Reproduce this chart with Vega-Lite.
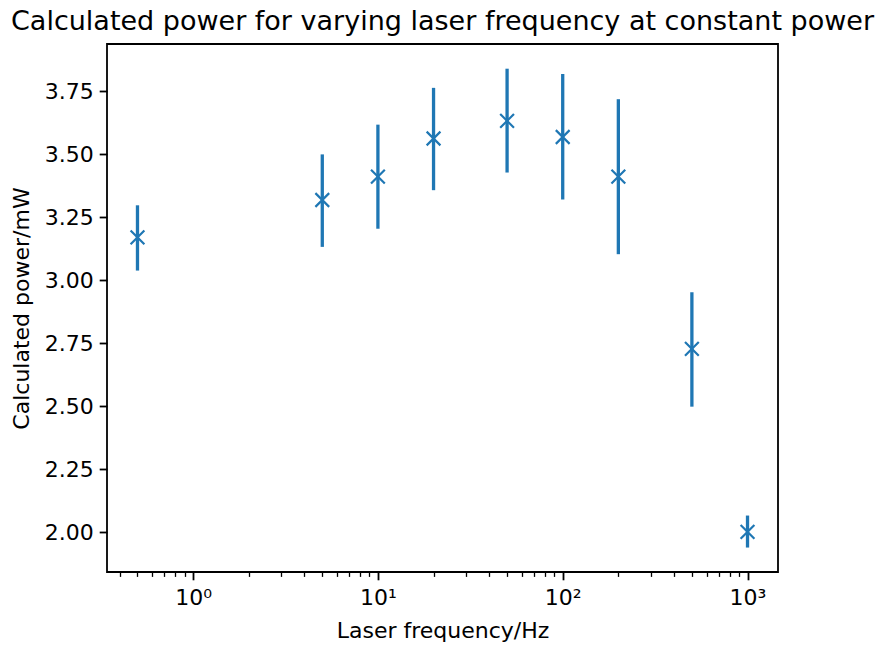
{
  "$schema": "https://vega.github.io/schema/vega-lite/v6.json",
  "width": 671,
  "height": 528,
  "autosize": {"type": "none"},
  "padding": {"left": 107, "top": 44, "right": 102, "bottom": 74},
  "background": "white",
  "title": {
    "text": "Calculated power for varying laser frequency at constant power",
    "font": "DejaVu Sans",
    "fontSize": 27,
    "fontWeight": "normal",
    "color": "black",
    "anchor": "middle",
    "offset": 8
  },
  "config": {
    "view": {"stroke": "black", "strokeWidth": 1.8},
    "font": "DejaVu Sans",
    "axis": {
      "grid": false,
      "domain": false,
      "labelFont": "DejaVu Sans",
      "titleFont": "DejaVu Sans",
      "labelColor": "black",
      "titleColor": "black",
      "tickColor": "black",
      "titleFontWeight": "normal"
    }
  },
  "data": {
    "values": [
      {"f": 0.5, "p": 3.170, "lo": 3.038, "hi": 3.297},
      {"f": 5, "p": 3.318, "lo": 3.132, "hi": 3.499},
      {"f": 10, "p": 3.411, "lo": 3.204, "hi": 3.617},
      {"f": 20, "p": 3.562, "lo": 3.357, "hi": 3.763},
      {"f": 50, "p": 3.632, "lo": 3.427, "hi": 3.839},
      {"f": 100, "p": 3.568, "lo": 3.320, "hi": 3.818},
      {"f": 200, "p": 3.411, "lo": 3.103, "hi": 3.718},
      {"f": 500, "p": 2.727, "lo": 2.498, "hi": 2.952},
      {"f": 1000, "p": 2.001, "lo": 1.939, "hi": 2.066}
    ]
  },
  "resolve": {"axis": {"x": "independent"}},
  "layer": [
    {
      "mark": {"type": "rule", "color": "#1f77b4", "strokeWidth": 3.3},
      "encoding": {
        "x": {
          "field": "f",
          "type": "quantitative",
          "scale": {"type": "log", "domain": [0.342, 1462], "nice": false, "zero": false},
          "axis": {
            "orient": "bottom",
            "values": [1, 10, 100, 1000],
            "labelExpr": "datum.value == 1 ? '10⁰' : datum.value == 10 ? '10¹' : datum.value == 100 ? '10²' : '10³'",
            "labelFontSize": 22,
            "tickSize": 7.8,
            "tickWidth": 1.8,
            "labelPadding": 8,
            "title": "Laser frequency/Hz",
            "titleFontSize": 22,
            "titlePadding": 12
          }
        },
        "y": {
          "field": "lo",
          "type": "quantitative",
          "scale": {"domain": [1.842, 3.937], "nice": false, "zero": false},
          "axis": {
            "values": [2.0, 2.25, 2.5, 2.75, 3.0, 3.25, 3.5, 3.75],
            "format": ".2f",
            "labelFontSize": 22,
            "tickSize": 7.8,
            "tickWidth": 1.8,
            "labelPadding": 6,
            "title": "Calculated power/mW",
            "titleFontSize": 22,
            "titlePadding": 11
          }
        },
        "y2": {"field": "hi"}
      }
    },
    {
      "mark": {
        "type": "point",
        "shape": "M-1,-1L1,1M1,-1L-1,1",
        "filled": false,
        "color": "#1f77b4",
        "strokeWidth": 2.2,
        "size": 190,
        "opacity": 1
      },
      "encoding": {
        "x": {
          "field": "f",
          "type": "quantitative",
          "axis": {
            "orient": "bottom",
            "values": [0.4, 0.5, 0.6, 0.7, 0.8, 0.9, 2, 3, 4, 5, 6, 7, 8, 9, 20, 30, 40, 50, 60, 70, 80, 90, 200, 300, 400, 500, 600, 700, 800, 900],
            "labels": false,
            "tickSize": 4.4,
            "tickWidth": 1.3,
            "title": null
          }
        },
        "y": {"field": "p", "type": "quantitative"}
      }
    }
  ]
}
